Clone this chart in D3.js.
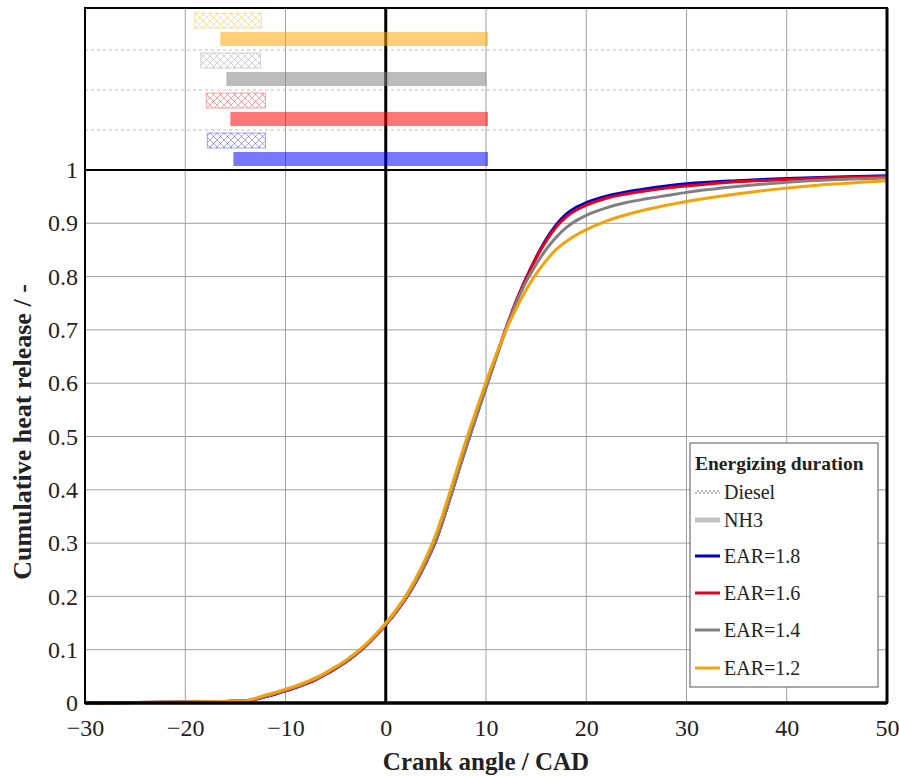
<!DOCTYPE html>
<html>
<head>
<meta charset="utf-8">
<script src="https://cdn.jsdelivr.net/npm/d3@7"></script>
<style>
  html, body { margin: 0; padding: 0; background: #fff; }
  svg { display: block; font-family: "Liberation Serif", "Times New Roman", serif; }
</style>
</head>
<body>
<svg id="chart" width="899" height="776"></svg>
<script>
// Crank angle samples (CAD)
const crankAngle = [-30, -25, -20, -16, -14, -13, -12, -11, -10, -9, -8, -7, -6, -5, -4, -3, -2, -1,
  0, 1, 2, 3, 4, 5, 6, 7, 8, 9, 10, 11, 12, 13, 14, 15, 16, 17, 18, 19, 20, 22, 24, 26, 28, 30, 35, 40, 45, 50];

// Cumulative heat release per energizing ratio
const chrEAR18 = [0.000, 0.001, 0.002, 0.003, 0.004, 0.007, 0.012, 0.017, 0.023, 0.029, 0.036, 0.044, 0.054, 0.065, 0.077, 0.091, 0.107, 0.126,
  0.147, 0.170, 0.196, 0.227, 0.263, 0.305, 0.360, 0.420, 0.480, 0.537, 0.593, 0.649, 0.703, 0.753, 0.797, 0.836, 0.870, 0.897, 0.917, 0.930, 0.939, 0.951, 0.959, 0.965, 0.970, 0.974, 0.980, 0.984, 0.987, 0.989];
const chrEAR16 = [0.000, 0.001, 0.002, 0.003, 0.004, 0.007, 0.012, 0.017, 0.023, 0.029, 0.036, 0.044, 0.054, 0.065, 0.077, 0.091, 0.107, 0.126,
  0.147, 0.170, 0.196, 0.227, 0.263, 0.305, 0.360, 0.420, 0.480, 0.537, 0.593, 0.649, 0.703, 0.753, 0.796, 0.835, 0.867, 0.893, 0.912, 0.925, 0.934, 0.947, 0.955, 0.961, 0.966, 0.970, 0.978, 0.982, 0.986, 0.988];
const chrEAR14 = [0.000, 0.001, 0.002, 0.003, 0.004, 0.008, 0.013, 0.018, 0.024, 0.030, 0.037, 0.045, 0.055, 0.066, 0.078, 0.092, 0.108, 0.127,
  0.148, 0.171, 0.197, 0.228, 0.264, 0.306, 0.360, 0.419, 0.478, 0.535, 0.591, 0.647, 0.701, 0.750, 0.790, 0.823, 0.851, 0.874, 0.892, 0.905, 0.915, 0.929, 0.939, 0.946, 0.952, 0.958, 0.969, 0.977, 0.982, 0.985];
const chrEAR12 = [0.000, 0.001, 0.002, 0.003, 0.004, 0.009, 0.015, 0.020, 0.026, 0.032, 0.039, 0.047, 0.057, 0.068, 0.080, 0.094, 0.110, 0.129,
  0.150, 0.174, 0.201, 0.234, 0.272, 0.316, 0.372, 0.432, 0.492, 0.548, 0.602, 0.653, 0.700, 0.740, 0.775, 0.805, 0.830, 0.851, 0.866, 0.878, 0.888, 0.904, 0.916, 0.926, 0.934, 0.941, 0.955, 0.966, 0.974, 0.980];

const seriesNames = ["EAR=1.8", "EAR=1.6", "EAR=1.4", "EAR=1.2"];
const seriesColors = ["#0000cc", "#e8001a", "#808080", "#f5a20a"];

// Energizing duration rows (top to bottom)
const durationRows = ["EAR=1.2", "EAR=1.4", "EAR=1.6", "EAR=1.8"];
const durationColors = ["#ffa500", "#808080", "#ff0000", "#0000ff"];
const dieselStart = [-19.05, -18.45, -17.9, -17.8];
const dieselEnd = [-12.4, -12.5, -12.0, -12.0];
const nh3Start = [-16.5, -15.9, -15.5, -15.2];
const nh3End = [10.2, 10.05, 10.2, 10.2];

const xTicks = [-30, -20, -10, 0, 10, 20, 30, 40, 50];
const yTicks = [0, 0.1, 0.2, 0.3, 0.4, 0.5, 0.6, 0.7, 0.8, 0.9, 1];

const svg = d3.select("#chart");
const plotLeft = 85, plotRight = 887, plotTop = 8, plotBottom = 703;

const x = d3.scaleLinear().domain([-30, 50]).range([plotLeft, plotRight]);
const y = d3.scaleLinear().domain([0, 1]).range([plotBottom, 170]);
const row = d3.scaleBand().domain(durationRows).range([10, y(1)]);

// Hatch patterns for the diesel energizing bars
const defs = svg.append("defs");
durationColors.forEach((c, i) => {
  const p = defs.append("pattern")
    .attr("id", "hatch" + i)
    .attr("patternUnits", "userSpaceOnUse")
    .attr("width", 7).attr("height", 7);
  p.append("path").attr("d", "M0,0 L7,7 M7,0 L0,7")
    .attr("stroke", c).attr("stroke-opacity", 0.45).attr("stroke-width", 0.8).attr("fill", "none");
});
const lp = defs.append("pattern").attr("id", "hatchLegend")
  .attr("patternUnits", "userSpaceOnUse").attr("width", 4).attr("height", 4);
lp.append("path").attr("d", "M0,0 L4,4 M4,0 L0,4")
  .attr("stroke", "#999").attr("stroke-width", 0.7).attr("fill", "none");

// Grid
const grid = svg.append("g");
grid.selectAll("line.vx").data(xTicks.slice(1, -1)).join("line")
  .attr("x1", d => x(d)).attr("x2", d => x(d))
  .attr("y1", plotTop).attr("y2", plotBottom)
  .attr("stroke", "#a0a0a0").attr("stroke-width", 1);
grid.selectAll("line.hy").data(yTicks.slice(1, -1)).join("line")
  .attr("x1", plotLeft).attr("x2", plotRight)
  .attr("y1", d => y(d)).attr("y2", d => y(d))
  .attr("stroke", "#a0a0a0").attr("stroke-width", 1);
// dotted row separators in the duration panel
grid.selectAll("line.rs").data(durationRows.slice(1)).join("line")
  .attr("x1", plotLeft).attr("x2", plotRight)
  .attr("y1", d => row(d)).attr("y2", d => row(d))
  .attr("stroke", "#bdbdbd").attr("stroke-width", 1).attr("stroke-dasharray", "3,3");

// Reference lines: TDC and full heat release
svg.append("line").attr("x1", x(0)).attr("x2", x(0)).attr("y1", plotTop).attr("y2", plotBottom)
  .attr("stroke", "#000").attr("stroke-width", 3);
svg.append("line").attr("x1", plotLeft).attr("x2", plotRight).attr("y1", y(1)).attr("y2", y(1))
  .attr("stroke", "#000").attr("stroke-width", 2);

// Energizing duration bars
const bars = svg.append("g");
durationRows.forEach((r, i) => {
  const y0 = row(r);
  bars.append("rect")
    .attr("x", x(dieselStart[i])).attr("width", x(dieselEnd[i]) - x(dieselStart[i]))
    .attr("y", y0 + 3).attr("height", 15)
    .attr("fill", "url(#hatch" + i + ")")
    .attr("stroke", durationColors[i]).attr("stroke-opacity", 0.35).attr("stroke-width", 1);
  bars.append("rect")
    .attr("x", x(nh3Start[i])).attr("width", x(nh3End[i]) - x(nh3Start[i]))
    .attr("y", y0 + 22).attr("height", 14)
    .attr("fill", durationColors[i]).attr("fill-opacity", 0.53);
});

// Cumulative heat release curves
const curves = [chrEAR18, chrEAR16, chrEAR14, chrEAR12];
const line = d3.line()
  .x((d, i) => x(crankAngle[i]))
  .y(d => y(d))
  .curve(d3.curveMonotoneX);
svg.append("g").selectAll("path").data(curves).join("path")
  .attr("d", d => line(d))
  .attr("fill", "none")
  .attr("stroke", (d, i) => seriesColors[i])
  .attr("stroke-width", 3)
  .attr("stroke-linejoin", "round");

// Frame
svg.append("rect").attr("x", plotLeft).attr("y", plotTop)
  .attr("width", plotRight - plotLeft).attr("height", plotBottom - plotTop)
  .attr("fill", "none").attr("stroke", "#000").attr("stroke-width", 2);
svg.append("line").attr("x1", plotRight).attr("x2", plotRight).attr("y1", plotTop).attr("y2", plotBottom)
  .attr("stroke", "#000").attr("stroke-width", 3);
svg.append("line").attr("x1", plotLeft).attr("x2", plotRight).attr("y1", plotBottom).attr("y2", plotBottom)
  .attr("stroke", "#000").attr("stroke-width", 3.5);

// Axes
const xAxis = svg.append("g").attr("transform", `translate(0,${plotBottom})`)
  .call(d3.axisBottom(x).tickValues(xTicks).tickSize(0).tickPadding(16));
const yAxis = svg.append("g").attr("transform", `translate(${plotLeft},0)`)
  .call(d3.axisLeft(y).tickValues(yTicks).tickSize(0).tickPadding(7)
    .tickFormat(d => d3.format("~g")(d)));
[xAxis, yAxis].forEach(a => {
  a.select(".domain").remove();
  a.selectAll("text").attr("font-family", "'Liberation Serif', 'Times New Roman', serif")
    .attr("font-size", 24).attr("fill", "#222");
});

svg.append("text")
  .attr("x", x(10)).attr("y", 770)
  .attr("text-anchor", "middle")
  .attr("font-size", 25).attr("font-weight", "bold").attr("fill", "#222")
  .text("Crank angle / CAD");
svg.append("text")
  .attr("transform", "translate(31,432) rotate(-90)")
  .attr("text-anchor", "middle")
  .attr("font-size", 26).attr("font-weight", "bold").attr("fill", "#222")
  .text("Cumulative heat release / -");

// Legend
const lg = svg.append("g").attr("transform", "translate(690,443)");
lg.append("rect").attr("width", 188).attr("height", 244)
  .attr("fill", "#fff").attr("stroke", "#555").attr("stroke-width", 1);
lg.append("text").attr("x", 5).attr("y", 27)
  .attr("font-size", 19.5).attr("font-weight", "bold").attr("fill", "#222")
  .text("Energizing duration");
const legendItems = ["Diesel", "NH3"].concat(seriesNames);
const legendY = [49, 77, 113, 150, 187, 225];
legendItems.forEach((name, i) => {
  const yy = legendY[i];
  if (i === 0) {
    lg.append("rect").attr("x", 5).attr("y", yy - 2).attr("width", 25).attr("height", 4)
      .attr("fill", "url(#hatchLegend)");
  } else if (i === 1) {
    lg.append("line").attr("x1", 5).attr("x2", 30).attr("y1", yy).attr("y2", yy)
      .attr("stroke", "#c0c0c0").attr("stroke-width", 5);
  } else {
    lg.append("line").attr("x1", 5).attr("x2", 30).attr("y1", yy).attr("y2", yy)
      .attr("stroke", seriesColors[i - 2]).attr("stroke-width", 3);
  }
  lg.append("text").attr("x", 34).attr("y", yy + 7)
    .attr("font-size", 20).attr("fill", "#222").text(name);
});
</script>
</body>
</html>
